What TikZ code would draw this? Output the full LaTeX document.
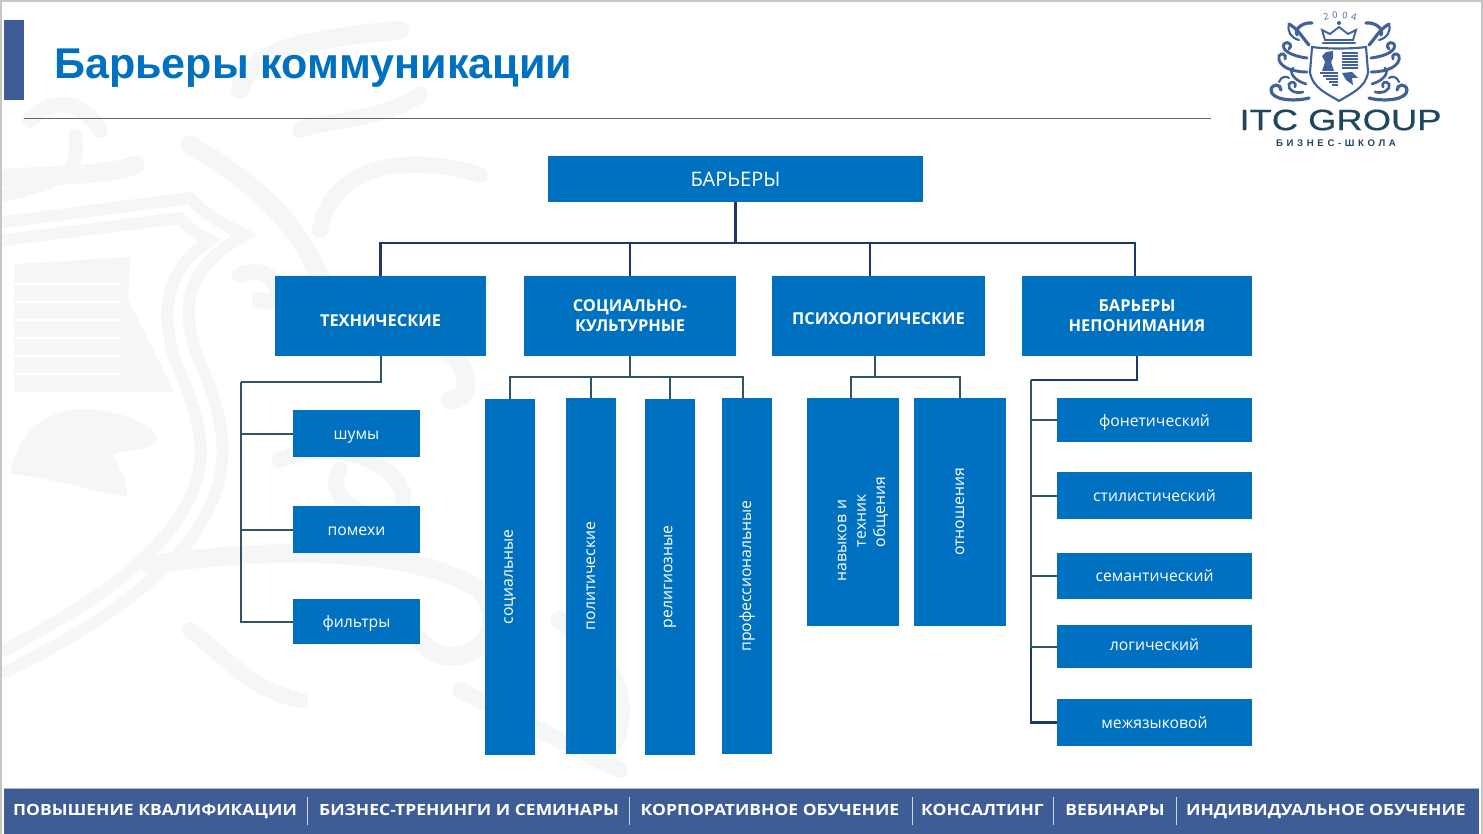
\documentclass[tikz,border=0pt]{standalone}
\usepackage{fontspec}
\setmainfont{Open Sans}
\newfontfamily\titlefont{Liberation Sans}
\newfontfamily\barfont[FakeStretch=1.13]{Open Sans}
\newfontfamily\logofont[FakeStretch=1.24,FakeBold=0.5]{Liberation Sans}
\newfontfamily\logosubfont[LetterSpace=38]{Liberation Sans}
\definecolor{boxblue}{RGB}{0,112,192}
\definecolor{barblue}{RGB}{62,92,150}
\definecolor{navyline}{RGB}{31,56,110}
\definecolor{slateline}{RGB}{47,85,101}
\definecolor{crest}{RGB}{244,246,247}
\definecolor{logoink}{RGB}{66,97,152}
\definecolor{logodark}{RGB}{30,70,95}
\tikzset{
    bluebox/.style={fill=boxblue, text=white, inner sep=0pt, align=center},
    headbox/.style={bluebox, font=\fontsize{12.3}{15}\selectfont\bfseries},
    itembox/.style={bluebox, font=\fontsize{11.8}{14.5}\selectfont},
    boxsize/.style 2 args={minimum width=#1*0.75pt, minimum height=#2*0.75pt},
    upline/.style={navyline, line width=1.6pt},
    lowline/.style={slateline, line width=1.5pt},
    crestline/.style={crest, line width=9pt, line cap=round},
    logoline/.style={logoink, line width=1.1pt, line cap=round}
}
\newcommand{\droptext}[2]{\raisebox{-#1}[\height][\depth]{#2}}
\begin{document}
\begin{tikzpicture}[x=0.75pt, y=-0.75pt]
    \useasboundingbox (0,0) rectangle (1483,834);
    \fill[white] (0,0) rectangle (1483,834);

    % watermark
    \fill[crest] (14,264) -- (130,257) -- (128,300) -- (174,392) -- (14,392) -- cycle;
    \foreach \y in {284,302,320,338,356,374}
        \draw[white, line width=1pt] (14,\y) -- (120,\y);
    \fill[crest] (10,474) .. controls (20,420) and (60,405) .. (100,410) .. controls (130,415) and (155,425) .. (157,440) .. controls (150,452) and (130,448) .. (112,455) .. controls (125,475) and (130,490) .. (125,497) .. controls (90,490) and (50,478) .. (10,474) -- cycle;
    \draw[crestline] (5,222) -- (190,198) .. controls (205,215) and (225,225) .. (245,235) .. controls (190,265) and (180,300) .. (195,350) .. controls (225,420) and (240,470) .. (190,540) .. controls (140,600) and (70,640) .. (5,672);
    \draw[crestline] (5,240) -- (180,218) .. controls (190,230) and (200,235) .. (210,240) .. controls (165,270) and (160,310) .. (175,360) .. controls (205,430) and (215,470) .. (170,530) .. controls (125,585) and (60,620) .. (5,650);
    \draw[crestline, line width=14pt] (5,178) .. controls (60,175) and (110,175) .. (135,165);
    \draw[crestline, line width=10pt] (75,135) .. controls (80,170) and (70,180) .. (5,195);
    \draw[crestline, line width=14pt] (190,145) .. controls (250,180) and (300,220) .. (325,290);
    \draw[crestline, line width=12pt] (320,230) .. controls (330,170) and (400,150) .. (480,175);
    \draw[crestline, line width=12pt] (240,275) .. controls (280,260) and (290,310) .. (260,300);
    \draw[crestline, line width=12pt] (280,460) .. controls (350,430) and (420,480) .. (400,510) .. controls (380,530) and (320,500) .. (340,470);
    \draw[crestline, line width=14pt] (400,330) .. controls (470,340) and (480,400) .. (450,400);
    \draw[crestline, line width=14pt] (150,565) .. controls (280,545) and (420,550) .. (480,590) .. controls (520,640) and (450,680) .. (420,640);
    \draw[crestline, line width=12pt] (190,630) .. controls (230,660) and (250,690) .. (300,700);
    \draw[crestline, line width=14pt] (240,90) .. controls (250,50) and (300,40) .. (400,30);
    \draw[crestline, line width=12pt] (420,95) .. controls (380,120) and (330,120) .. (300,130);
    \draw[crestline, line width=12pt] (30,120) .. controls (60,90) and (90,110) .. (100,130);
    \draw[crestline, line width=14pt] (560,620) .. controls (620,660) and (640,720) .. (600,760);
    \draw[crestline, line width=12pt] (460,690) .. controls (520,720) and (560,740) .. (620,770);

    % frame and header
    \draw[gray!45, line width=1pt] (1,834) -- (1,1) -- (1482,1) -- (1482,834);
    \fill[barblue] (4,20) rectangle (24,100);
    \node[anchor=west, inner sep=0pt, text=boxblue, font=\titlefont\fontsize{32.3}{36}\selectfont\bfseries] (pagetitle) at (54,68.5) {Барьеры коммуникации};
    \draw[gray!80!black, line width=0.7pt] (24,118) -- (1211,118);

    % logo
    \draw[logoline, fill=white, line width=1.6pt] (1312,47) .. controls (1325,49) and (1352,49) .. (1366,47) -- (1368,72) .. controls (1366,88) and (1350,94) .. (1339,101) .. controls (1328,94) and (1312,88) .. (1310,72) -- cycle;
    \fill[logoink] (1326,52) -- (1333,51) -- (1333,58) -- (1331,62) -- (1334,71) -- (1322,71) -- (1325,62) -- (1322,56) -- cycle;
    \foreach \y in {53,56,...,68}
        \draw[logoink, line width=1.4pt] (1342,\y) -- (1358,\y);
    \foreach \y in {73,76,...,85}
        \draw[logoink, line width=1.4pt] (1320+\y-73,\y) -- (1338,\y);
    \fill[logoink] (1342,73) -- (1352,72) -- (1358,78) -- (1352,78) -- (1353,85) -- (1346,80) -- cycle;
    \draw[logoline, line width=1.4pt] (1325,40) -- (1322,30) -- (1330,34) -- (1339,27) -- (1348,34) -- (1356,30) -- (1353,40) -- cycle;
    \draw[logoline, line width=1.8pt] (1323,43) -- (1355,43);
    \fill[logoink] (1339,23) circle (2);
    \foreach \s in {1,-1} {
        \begin{scope}[shift={(1339,0)}, xscale=\s]
            \draw[logoline, line width=2.4pt] (30,45) .. controls (38,36) and (40,30) .. (50,24);
            \draw[logoline, line width=2.4pt] (27,23) .. controls (35,22) and (45,28) .. (42,35);
            \draw[logoline, line width=1.6pt] (50,24) .. controls (52,32) and (48,38) .. (40,40);
            \draw[logoline, line width=2.2pt] (32,58) .. controls (48,56) and (58,50) .. (55,44) .. controls (50,40) and (46,46) .. (50,49);
            \draw[logoline, line width=2.2pt] (32,72) .. controls (48,72) and (62,66) .. (60,56) .. controls (58,52) and (52,54) .. (54,59);
            \draw[logoline, line width=2pt] (33,84) .. controls (46,80) and (50,72) .. (46,68);
            \draw[logoline, line width=2.4pt] (30,98) .. controls (45,102) and (68,100) .. (68,90) .. controls (67,83) and (58,84) .. (58,90);
            \draw[logoline, line width=2pt] (36,92) .. controls (44,94) and (52,90) .. (50,84) .. controls (47,80) and (42,83) .. (44,87);
            \draw[logoline, line width=1.6pt] (60,82) .. controls (58,76) and (52,76) .. (50,78);
        \end{scope}
    }
    \foreach \name/\x/\y/\tilt/\digit in {yearA/1326/17/14/2, yearB/1335/15/5/0, yearC/1345/15/-5/0, yearD/1354/17/-14/4}
        \node[font=\fontsize{6.8}{8}\selectfont, text=logoink, inner sep=0pt, rotate=\tilt] (\name) at (\x,\y) {\digit};
    \node[font=\logofont\fontsize{22}{24}\selectfont, text=logodark, inner sep=0pt] (logoname) at (1340.5,120) {ITC GROUP};
    \node[font=\logosubfont\fontsize{7.2}{8}\selectfont\bfseries, text=logodark, inner sep=0pt] (logosub) at (1336,143) {БИЗНЕС-ШКОЛА};

    % root and heads
    \node[bluebox, font=\fontsize{15}{18}\selectfont, boxsize={375}{46}] (root) at (735.5,179) {БАРЬЕРЫ};
    \node[headbox, boxsize={211}{80}] (tech) at (380.5,316) {\droptext{3.7pt}{ТЕХНИЧЕСКИЕ}};
    \node[headbox, boxsize={212}{80}] (social) at (630,316) {СОЦИАЛЬНО-\\КУЛЬТУРНЫЕ};
    \node[headbox, boxsize={213}{80}] (psycho) at (878.5,316) {\droptext{2.2pt}{ПСИХОЛОГИЧЕСКИЕ}};
    \node[headbox, boxsize={230}{80}] (misread) at (1137,316) {БАРЬЕРЫ\\НЕПОНИМАНИЯ};

    % left column
    \node[itembox, boxsize={127}{47}] (noise) at (356.5,433.5) {\droptext{3pt}{шумы}};
    \node[itembox, boxsize={127}{47}] (hindrance) at (356.5,529.5) {\droptext{1.5pt}{помехи}};
    \node[itembox, boxsize={127}{45}] (filters) at (356.5,621.5) {\droptext{1.5pt}{фильтры}};

    % tall boxes
    \node[itembox, rotate=90, boxsize={356}{50}] (socl) at (510,577) {социальные};
    \node[itembox, rotate=90, boxsize={356}{50}] (polit) at (591,576) {политические};
    \node[itembox, rotate=90, boxsize={356}{50}] (relig) at (670,577) {религиозные};
    \node[itembox, rotate=90, boxsize={356}{50}] (prof) at (747,576) {профессиональные};
    \node[itembox, rotate=90, boxsize={228}{92}, text width=103.5pt, align=left] (skills) at (853,512) {\mbox{}\\[6.8pt]навыков и\\\hspace*{25.5pt}техник\\\hspace*{25.5pt}общения};
    \node[itembox, rotate=90, boxsize={228}{92}] (attitude) at (960,512) {отношения};

    % right column
    \node[itembox, boxsize={195}{44}] (phonetic) at (1154.5,420) {\droptext{1.5pt}{фонетический}};
    \node[itembox, boxsize={195}{47}] (style) at (1154.5,495.5) {стилистический};
    \node[itembox, boxsize={195}{46}] (semantic) at (1154.5,576) {семантический};
    \node[itembox, boxsize={195}{43}] (logic) at (1154.5,646.5) {\droptext{-1.2pt}{логический}};
    \node[itembox, boxsize={195}{47}] (interlang) at (1154.5,722.5) {межязыковой};

    % connectors
    \coordinate (topbus) at (735.5,243);
    \coordinate (psychotop) at (870,276);
    \coordinate (misreadtop) at (1135,276);
    \draw[upline] (root.south) -- (topbus);
    \draw[upline] (tech.north) |- (topbus);
    \draw[upline] (misreadtop) |- (topbus);
    \draw[upline] (social.north) -- (social.north |- topbus);
    \draw[upline] (psychotop) -- (psychotop |- topbus);

    \coordinate (techbus) at (241,382);
    \draw[lowline] (tech.south) |- (techbus);
    \draw[lowline] (techbus) |- (filters.west);
    \draw[lowline] (noise.west) -| (techbus);
    \draw[lowline] (hindrance.west) -| (techbus);

    \coordinate (socialbus) at (630,377);
    \coordinate (proftop) at (743,398);
    \draw[lowline] (social.south) -- (socialbus);
    \draw[lowline] (socl.east) |- (socialbus);
    \draw[lowline] (proftop) |- (socialbus);
    \draw[lowline] (polit.east) -- (polit.east |- socialbus);
    \draw[lowline] (relig.east) -- (relig.east |- socialbus);

    \coordinate (psychobus) at (875,377);
    \coordinate (skillstop) at (851,398);
    \draw[lowline] (psychobus |- psycho.south) -- (psychobus);
    \draw[lowline] (skillstop) |- (psychobus);
    \draw[lowline] (attitude.east) |- (psychobus);

    \coordinate (misreadbus) at (1031,380);
    \draw[upline] (misread.south) |- (misreadbus);
    \draw[upline] (misreadbus) |- (interlang.west);
    \draw[lowline] (phonetic.west) -| (misreadbus);
    \draw[lowline] (style.west) -| (misreadbus);
    \draw[lowline] (semantic.west) -| (misreadbus);
    \draw[lowline] (logic.west) -| (misreadbus);

    % footer
    \fill[barblue] (4,789) rectangle (1479,834);
    \draw[gray!60, line width=0.6pt] (4,788.5) -- (1479,788.5);
    \foreach \name/\x/\label in {
        offer1/155/ПОВЫШЕНИЕ КВАЛИФИКАЦИИ,
        offer2/469/БИЗНЕС-ТРЕНИНГИ И СЕМИНАРЫ,
        offer3/770/КОРПОРАТИВНОЕ ОБУЧЕНИЕ,
        offer4/982.5/КОНСАЛТИНГ,
        offer5/1115/ВЕБИНАРЫ,
        offer6/1326/ИНДИВИДУАЛЬНОЕ ОБУЧЕНИЕ}
        \node[anchor=base, text=white, inner sep=0pt, font=\barfont\fontsize{11.6}{14}\selectfont\bfseries] (\name) at (\x,815.5) {\label};
    \foreach \x in {307.5,629,912.5,1053,1176.5}
        \draw[white!75!barblue, line width=0.6pt] (\x,797) -- (\x,825);
\end{tikzpicture}
\end{document}
